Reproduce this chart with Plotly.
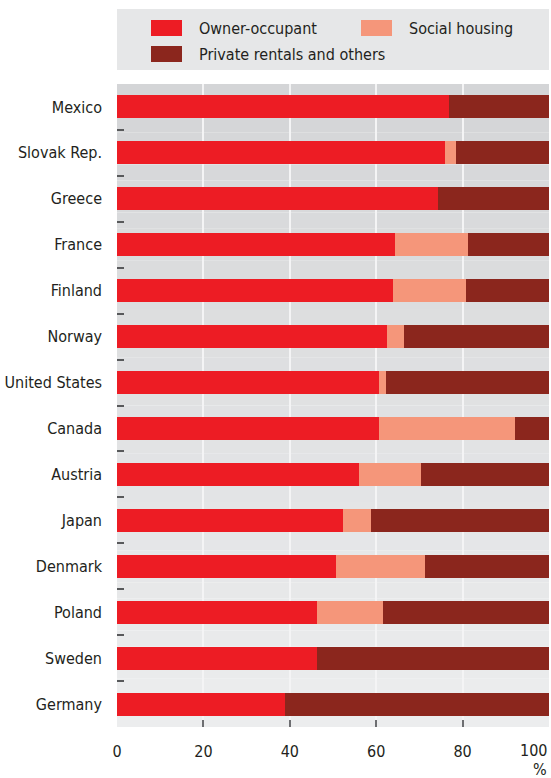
import plotly.graph_objects as go

countries = ["Mexico", "Slovak Rep.", "Greece", "France", "Finland", "Norway",
             "United States", "Canada", "Austria", "Japan", "Denmark", "Poland",
             "Sweden", "Germany"]
owner = [76.8, 75.9, 74.2, 64.3, 63.8, 62.6, 60.6, 60.6, 56.1, 52.4, 50.6, 46.4, 46.2, 39.0]
social = [0.0, 2.5, 0.0, 16.9, 16.9, 3.8, 1.6, 31.5, 14.2, 6.3, 20.6, 15.1, 0.0, 0.0]
private = [round(100 - o - s, 1) for o, s in zip(owner, social)]

series_names = ["Owner-occupant", "Social housing", "Private rentals and others"]
series_values = [owner, social, private]
colors = ["#ed1c24", "#f5967a", "#8b261d"]
x_ticks = [0, 20, 40, 60, 80, 100]
x_unit = "%"

FONT = "DejaVu Sans Condensed, Liberation Sans Narrow, sans-serif"
FS = 16
TXT = "#231f20"

W_FIG, H_FIG = 551, 778
L, R, T, B = 117, 2, 84, 51
PW = W_FIG - L - R
PH = H_FIG - T - B


def px2x(px):
    return (px - L) / PW


def px2y(py):
    return (T + PH - py) / PH


fig = go.Figure()
for name, vals, col in zip(series_names, series_values, colors):
    fig.add_trace(go.Bar(
        y=countries, x=vals, name=name, orientation="h",
        marker=dict(color=col, line=dict(width=0)), width=0.5,
        showlegend=False,
    ))

shapes = []
# vertical gradient background for the plot area
n_bands = 40
c_top = (0xd4, 0xd5, 0xd7)
c_bot = (0xec, 0xed, 0xee)
for i in range(n_bands):
    t = i / (n_bands - 1)
    c = tuple(round(a + (b - a) * t) for a, b in zip(c_top, c_bot))
    shapes.append(dict(type="rect", xref="paper", yref="paper", layer="below",
                       x0=0, x1=1, y0=1 - (i + 1) / n_bands, y1=1 - i / n_bands,
                       fillcolor="rgb(%d,%d,%d)" % c, line=dict(width=0)))

# legend box
shapes.append(dict(type="rect", xref="paper", yref="paper", layer="below",
                   x0=px2x(117), x1=px2x(549), y0=px2y(70), y1=px2y(9),
                   fillcolor="#e6e7e8", line=dict(width=0)))
legend_pos = [(151, 20, 197, 28), (361, 20, 407, 28), (151, 46, 197, 54)]
annotations = []
for name, col, (sx, sy, tx, ty) in zip(series_names, colors, legend_pos):
    shapes.append(dict(type="rect", xref="paper", yref="paper",
                       x0=px2x(sx), x1=px2x(sx + 31), y0=px2y(sy + 16), y1=px2y(sy),
                       fillcolor=col, line=dict(width=0)))
    annotations.append(dict(xref="paper", yref="paper", x=px2x(tx), y=px2y(ty),
                            text=name, showarrow=False, xanchor="left", yanchor="middle",
                            font=dict(family=FONT, size=FS, color=TXT)))

# last x tick label drawn right-aligned, and the unit
annotations.append(dict(xref="x", yref="paper", x=x_ticks[-1], y=px2y(750),
                        text=str(x_ticks[-1]), showarrow=False, xanchor="right", yanchor="middle",
                        font=dict(family=FONT, size=FS, color=TXT)))
annotations.append(dict(xref="x", yref="paper", x=x_ticks[-1], y=px2y(769),
                        text=x_unit, showarrow=False, xanchor="right", yanchor="middle",
                        font=dict(family=FONT, size=FS, color=TXT)))

fig.update_layout(
    width=W_FIG, height=H_FIG,
    margin=dict(l=L, r=R, t=T, b=B, autoexpand=False),
    barmode="stack",
    paper_bgcolor="white",
    plot_bgcolor="rgba(0,0,0,0)",
    font=dict(family=FONT, size=FS, color=TXT),
    shapes=shapes,
    annotations=annotations,
    bargap=0.5,
)
fig.update_xaxes(
    range=[0, 100], tickvals=x_ticks[:-1], ticktext=[str(v) for v in x_ticks[:-1]],
    ticks="", showgrid=False, zeroline=False, showline=False,
    tickfont=dict(family=FONT, size=FS, color=TXT), ticklabelstandoff=13,
    minor=dict(tickvals=x_ticks[1:-1], ticks="inside", ticklen=7, tickwidth=2,
               tickcolor="#6d6e71", showgrid=True, gridcolor="#f4f4f5", gridwidth=2),
    fixedrange=True,
)
fig.update_yaxes(
    autorange="reversed", ticks="inside", tickson="boundaries", ticklen=7,
    tickwidth=1.5, tickcolor="#58595b", showgrid=False, zeroline=False, showline=False,
    tickfont=dict(family=FONT, size=FS, color=TXT), ticklabelstandoff=14,
    fixedrange=True,
)

fig.write_html(
    "out.html",
    config={"displayModeBar": False},
    post_script="document.body.style.margin='0';document.body.style.overflow='hidden';",
)
